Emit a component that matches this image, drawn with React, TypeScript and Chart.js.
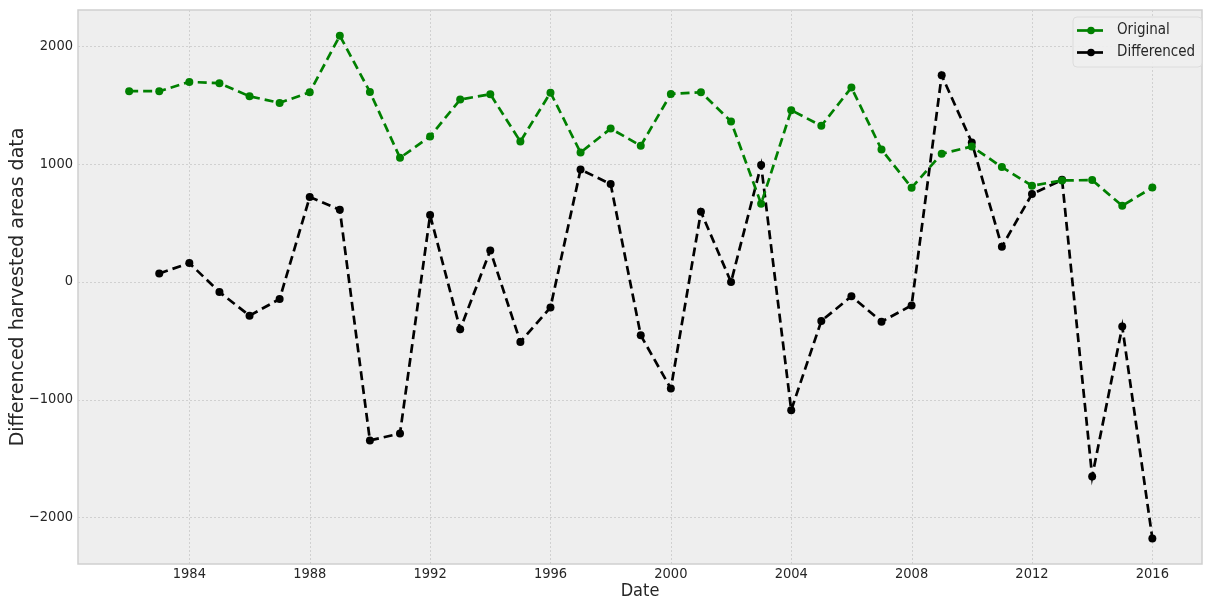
import React, { useEffect, useRef } from "react";
import { Chart, registerables } from "chart.js";

Chart.register(...registerables);

const originalYears: number[] = [
  1982, 1983, 1984, 1985, 1986, 1987, 1988, 1989, 1990, 1991, 1992, 1993,
  1994, 1995, 1996, 1997, 1998, 1999, 2000, 2001, 2002, 2003, 2004, 2005,
  2006, 2007, 2008, 2009, 2010, 2011, 2012, 2013, 2014, 2015, 2016,
];
const originalValues: number[] = [
  1616, 1616, 1695, 1684, 1573, 1517, 1607, 2087, 1610, 1051, 1232, 1545,
  1591, 1189, 1604, 1096, 1299, 1153, 1593, 1607, 1359, 661, 1455, 1322,
  1647, 1121, 797, 1085, 1147, 972, 814, 859, 862, 644, 799,
];
const differencedYears: number[] = originalYears.slice(1);
const differencedValues: number[] = [
  70, 158, -88, -288, -147, 718, 610, -1347, -1288, 565, -404, 265, -511,
  -218, 952, 828, -455, -907, 593, -3, 989, -1090, -333, -124, -339, -201,
  1751, 1181, 297, 743, 864, -1653, -381, -2178,
];
const xTicks: number[] = [1984, 1988, 1992, 1996, 2000, 2004, 2008, 2012, 2016];
const yTicks: number[] = [-2000, -1000, 0, 1000, 2000];
const seriesNames: string[] = ["Original", "Differenced"];
const seriesColors: string[] = ["#008000", "#000000"];

const FONT_C = "'DejaVu Sans Condensed', 'DejaVu Sans', sans-serif";
const FONT = "'DejaVu Sans', sans-serif";
const TEXT = "#262626";

export default function App() {
  const ref = useRef<HTMLCanvasElement | null>(null);

  useEffect(() => {
    if (!ref.current) return;

    const bgPlugin = {
      id: "bgPlugin",
      beforeDatasetsDraw(chart: any) {
        const { ctx, chartArea } = chart;
        ctx.save();
        ctx.fillStyle = "#eeeeee";
        ctx.fillRect(chartArea.left, chartArea.top, chartArea.right - chartArea.left, chartArea.bottom - chartArea.top);
        ctx.strokeStyle = "#d0d0d0";
        ctx.lineWidth = 1;
        ctx.setLineDash([2, 2]);
        const xs = chart.scales.x;
        const ys = chart.scales.y;
        xTicks.forEach((t) => {
          const px = Math.round(xs.getPixelForValue(t)) + 0.5;
          ctx.beginPath();
          ctx.moveTo(px, chartArea.top);
          ctx.lineTo(px, chartArea.bottom);
          ctx.stroke();
        });
        yTicks.forEach((t) => {
          const py = Math.round(ys.getPixelForValue(t)) + 0.5;
          ctx.beginPath();
          ctx.moveTo(chartArea.left, py);
          ctx.lineTo(chartArea.right, py);
          ctx.stroke();
        });
        ctx.restore();
      },
      afterDraw(chart: any) {
        const { ctx, chartArea } = chart;
        ctx.save();
        ctx.strokeStyle = "#cfcfcf";
        ctx.lineWidth = 1.5;
        ctx.strokeRect(chartArea.left, chartArea.top, chartArea.right - chartArea.left, chartArea.bottom - chartArea.top);
        // legend
        const bx = 1073, by = 17, bw = 129, bh = 50, r = 4;
        ctx.beginPath();
        ctx.moveTo(bx + r, by);
        ctx.lineTo(bx + bw - r, by);
        ctx.quadraticCurveTo(bx + bw, by, bx + bw, by + r);
        ctx.lineTo(bx + bw, by + bh - r);
        ctx.quadraticCurveTo(bx + bw, by + bh, bx + bw - r, by + bh);
        ctx.lineTo(bx + r, by + bh);
        ctx.quadraticCurveTo(bx, by + bh, bx, by + bh - r);
        ctx.lineTo(bx, by + r);
        ctx.quadraticCurveTo(bx, by, bx + r, by);
        ctx.closePath();
        ctx.fillStyle = "rgba(238,238,238,0.9)";
        ctx.fill();
        ctx.strokeStyle = "#dcdcdc";
        ctx.lineWidth = 1;
        ctx.stroke();
        seriesNames.forEach((name, i) => {
          const cy = 30.5 + i * 22;
          ctx.strokeStyle = seriesColors[i];
          ctx.fillStyle = seriesColors[i];
          ctx.lineWidth = 2.7;
          ctx.setLineDash([]);
          ctx.beginPath();
          ctx.moveTo(1077, cy);
          ctx.lineTo(1103, cy);
          ctx.stroke();
          ctx.beginPath();
          ctx.arc(1091, cy, 3.8, 0, Math.PI * 2);
          ctx.fill();
          ctx.fillStyle = TEXT;
          ctx.font = `15px ${FONT_C}`;
          ctx.textBaseline = "middle";
          ctx.textAlign = "left";
          ctx.fillText(name, 1117, cy);
        });
        ctx.restore();
      },
    };

    const ds = (i: number, xs: number[], ys: number[]) => ({
      label: seriesNames[i],
      data: xs.map((x, k) => ({ x, y: ys[k] })),
      borderColor: seriesColors[i],
      backgroundColor: seriesColors[i],
      borderWidth: 2.7,
      borderDash: [9, 5],
      pointRadius: 4,
      pointBorderWidth: 0,
      tension: 0,
      fill: false,
    });

    const chart = new Chart(ref.current, {
      type: "line",
      data: {
        datasets: [
          ds(0, originalYears, originalValues),
          ds(1, differencedYears, differencedValues),
        ],
      },
      options: {
        animation: false,
        responsive: false,
        maintainAspectRatio: false,
        layout: { padding: { top: 10, right: 2, left: 0, bottom: 0 } },
        plugins: {
          legend: { display: false },
          tooltip: { enabled: false },
        },
        scales: {
          x: {
            type: "linear",
            min: 1980.3,
            max: 2017.65,
            afterBuildTicks: (axis: any) => {
              axis.ticks = xTicks.map((v) => ({ value: v }));
            },
            afterFit: (axis: any) => {
              axis.height = 38;
              axis.paddingLeft = 0;
              axis.paddingRight = 0;
            },
            grid: { display: false, drawTicks: false },
            border: { display: false },
            ticks: {
              color: TEXT,
              font: { family: FONT_C, size: 14.5 },
              padding: 2,
              maxRotation: 0,
              callback: (v: any) => String(v),
            },
            title: {
              display: true,
              text: "Date",
              color: TEXT,
              font: { family: FONT_C, size: 18 },
              padding: { top: 2, bottom: 0 },
            },
          },
          y: {
            type: "linear",
            min: -2395,
            max: 2305,
            afterBuildTicks: (axis: any) => {
              axis.ticks = yTicks.map((v) => ({ value: v }));
            },
            afterFit: (axis: any) => {
              axis.width = 78;
              axis.paddingTop = 0;
              axis.paddingBottom = 0;
            },
            grid: { display: false, drawTicks: false },
            border: { display: false },
            ticks: {
              color: TEXT,
              font: { family: FONT_C, size: 14.5 },
              padding: 5,
              callback: (v: any) => String(v).replace("-", "\u2212"),
            },
            title: {
              display: true,
              text: "Differenced harvested areas data",
              color: TEXT,
              font: { family: FONT, size: 19 },
              padding: { top: 7, bottom: 4 },
            },
          },
        },
      },
      plugins: [bgPlugin],
    });

    return () => chart.destroy();
  }, []);

  return (
    <div style={{ position: "absolute", left: 0, top: 0, width: 1206, height: 602, background: "#ffffff" }}>
      <canvas ref={ref} width={1206} height={602} style={{ width: 1206, height: 602, display: "block" }} />
    </div>
  );
}
